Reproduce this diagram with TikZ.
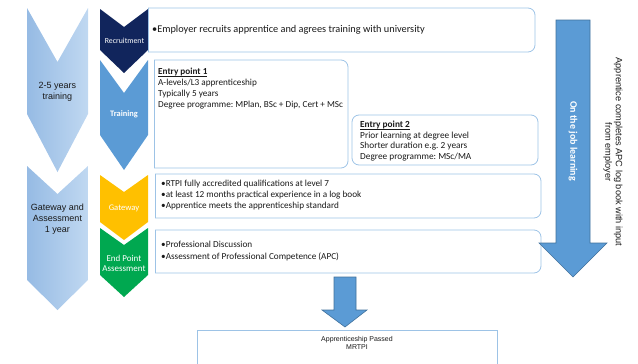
\documentclass[tikz,border=0pt]{standalone}
\usepackage{fontspec}
\setmainfont{Carlito}
\newfontfamily\arialfont{Liberation Sans}
\usepackage{xcolor}
\usepackage{tikz}
\definecolor{navystage}{RGB}{17, 37, 92}
\definecolor{trainblue}{RGB}{91, 155, 213}
\definecolor{gatewaygold}{RGB}{255, 192, 0}
\definecolor{epagreen}{RGB}{0, 168, 80}
\definecolor{phaseleft}{RGB}{150, 187, 228}
\definecolor{phaseright}{RGB}{192, 216, 241}
\definecolor{boxborder}{RGB}{157, 195, 230}
\definecolor{arrowblue}{RGB}{91, 155, 213}
\definecolor{arrowedge}{RGB}{65, 113, 156}
\definecolor{inktext}{RGB}{25, 25, 25}
\frenchspacing
% chevron: style, x left, x right, top, notch, side bottom, tip
\newcommand{\stagechevron}[7]{%
  \path[#1] (#2,#4) -- ({(#2+#3)/2},#5) -- (#3,#4) -- (#3,#6) -- ({(#2+#3)/2},#7) -- (#2,#6) -- cycle;}
% box with square left side and round right corners
\newcommand{\stagebox}[4]{%
  \draw[boxline, rounded corners=7pt] (#1,#2) -- (#3,#2) -- (#3,#4) -- (#1,#4);
  \draw[boxline] (#1,#2) -- (#1,#4);}
% underlined bold heading inside a box
\newcommand{\entryhead}[1]{\underline{\smash{\textbf{#1}}}}

\begin{document}
\begin{tikzpicture}[x=1pt, y=-1pt, every node/.style={text=inktext},
    boxline/.style={draw=boxborder, line width=0.8pt},
    boxtext/.style={anchor=north west, align=left, inner sep=0pt, font=\fontsize{9.2}{11}\selectfont},
    stagelabel/.style={text=white, align=center, inner sep=0pt},
    phaselabel/.style={align=center, inner sep=0pt, font=\arialfont\fontsize{9}{11}\selectfont},
    blockarrow/.style={fill=arrowblue, draw=arrowedge, line width=0.6pt}]
    \useasboundingbox (0,0) rectangle (638,364);
    \clip (0,0) rectangle (638,364);

    % Phase chevrons
    \stagechevron{left color=phaseleft, right color=phaseright}{27}{88}{8}{62}{114}{172}
    \stagechevron{left color=phaseleft, right color=phaseright}{27}{88}{166}{194}{280}{310}
    \node[phaselabel] (trainphase) at (57.5,92) {2-5 years\\training};
    \node[phaselabel] (gatephase) at (57.5,219) {Gateway and\\Assessment\\1 year};

    % Stage chevrons
    \stagechevron{fill=navystage}{100}{148}{9}{27}{50}{73}
    \stagechevron{fill=trainblue}{100}{148}{60}{93}{135}{170}
    \stagechevron{fill=gatewaygold}{100}{148}{175}{192}{222}{240}
    \stagechevron{fill=epagreen}{100}{148}{228}{245}{275}{297}
    \node[stagelabel, font=\fontsize{7.8}{9}\selectfont] (recruitlbl) at (124.5,41) {Recruitment};
    \node[stagelabel, font=\bfseries\fontsize{8.4}{10}\selectfont] (trainlbl) at (124,114) {Training};
    \node[stagelabel, font=\fontsize{8.6}{10}\selectfont] (gatelbl) at (124,208) {Gateway};
    \node[stagelabel, font=\fontsize{9}{10}\selectfont] (epalbl) at (124,263) {End Point\\Assessment};

    % Recruitment box
    \stagebox{148}{8}{535}{52}
    \node[boxtext, anchor=west, font=\fontsize{10.3}{12}\selectfont] (recruittxt) at (152,30) {•Employer recruits apprentice and agrees training with university};

    % Training boxes
    \stagebox{154}{60}{348}{168}
    \node[boxtext] (entryone) at (158,74.5) {\entryhead{Entry point 1}\\A-levels/L3 apprenticeship\\Typically 5 years\\Degree programme: MPlan, BSc + Dip, Cert + MSc};
    \draw[boxline, rounded corners=7pt] (352,115) rectangle (538,165);
    \node[boxtext, font=\fontsize{9.3}{10.5}\selectfont] (entrytwo) at (360,127.5) {\entryhead{Entry point 2}\\Prior learning at degree level\\Shorter duration e.g. 2 years\\Degree programme: MSc/MA};

    % Gateway box
    \stagebox{155}{174}{541}{218}
    \node[boxtext] (gatetxt) at (161,180.2) {•RTPI fully accredited qualifications at level 7\\•at least 12 months practical experience in a log book\\•Apprentice meets the apprenticeship standard};

    % End point assessment box
    \stagebox{155}{230}{541}{273}
    \node[boxtext, font=\fontsize{9.2}{11.5}\selectfont] (epatxt) at (161,241.2) {•Professional Discussion\\•Assessment of Professional Competence (APC)};

    % On the job learning arrow
    \path[blockarrow] (556,20) -- (590,20) -- (590,243) -- (607,243) -- (573,277) -- (539,243) -- (556,243) -- cycle;
    \node[rotate=-90, text=white, font=\bfseries\fontsize{10}{12}\selectfont] (jobtxt) at (573,141) {On the job learning};
    \node[rotate=-90, align=center, font=\arialfont\fontsize{9.2}{10.5}\selectfont] (logtxt) at (613,152) {Apprentice completes APC log book with input\\from employer};

    % Outcome
    \path[blockarrow] (334,277) -- (356,277) -- (356,310) -- (367,310) -- (345,327) -- (322,310) -- (334,310) -- cycle;
    \draw[boxline] (197,330) rectangle (497,380);
    \node[align=center, inner sep=0pt, font=\arialfont\fontsize{7}{8.5}\selectfont] (passtxt) at (357,343) {Apprenticeship Passed\\MRTPI};
\end{tikzpicture}
\end{document}
